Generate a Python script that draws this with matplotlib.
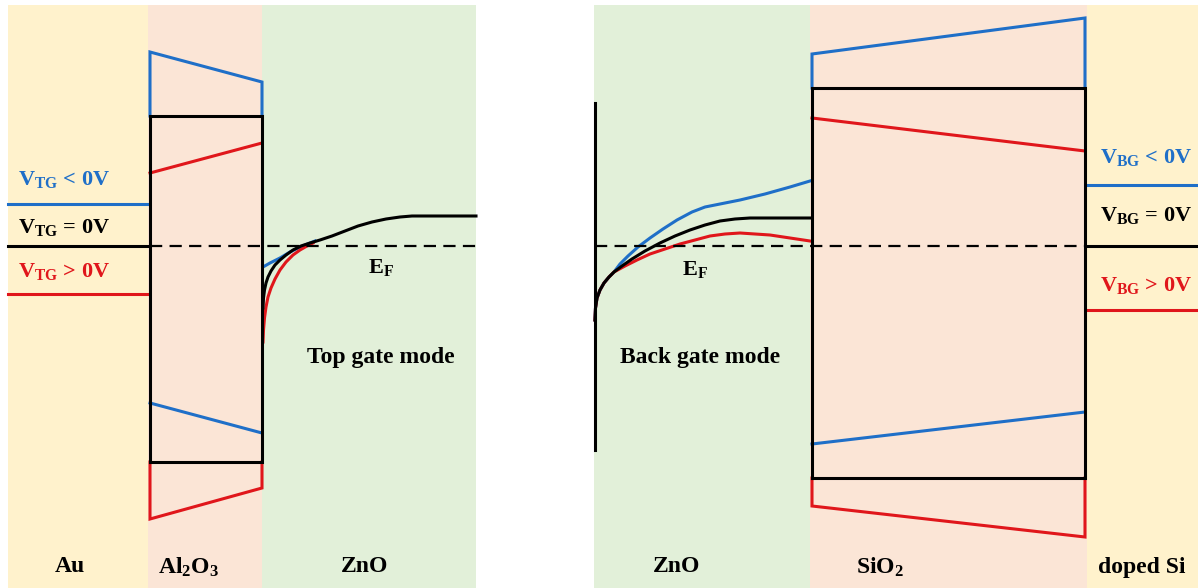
import matplotlib
matplotlib.use("Agg")
import matplotlib.pyplot as plt
from matplotlib.patches import Rectangle

plt.rcParams['font.family'] = 'Liberation Serif'
plt.rcParams['font.weight'] = 'bold'
plt.rcParams['mathtext.fontset'] = 'custom'
plt.rcParams['mathtext.rm'] = 'Liberation Serif:bold'
plt.rcParams['mathtext.it'] = 'Liberation Serif:bold'
plt.rcParams['mathtext.bf'] = 'Liberation Serif:bold'

# energy axis runs downward (pixel-like units), Fermi level shared by both diagrams
fermi_level = 246

# layer extents: name, x_left, x_right, fill colour
layers = [
    ("Au", 8, 148, "#fff2cc"),
    ("Al$_{\\mathrm{2}}$O$_{\\mathrm{3}}$", 148, 262, "#fbe5d6"),
    ("ZnO", 262, 476, "#e2f0d9"),
    ("ZnO", 594, 810, "#e2f0d9"),
    ("SiO$_{\\mathrm{2}}$", 810, 1087, "#fbe5d6"),
    ("doped Si", 1087, 1198, "#fff2cc"),
]
layer_label_x = [70, 188, 365, 677, 880, 1142]

blue = "#1f6fc8"
red = "#e0161b"
bias_colors = [blue, "black", red]

# ---- top gate: Au / Al2O3 / ZnO ----
au_levels = [204, 246, 294]            # V<0, V=0, V>0
al2o3_x = [150, 262]
al2o3_cb = {"blue": [52, 82], "black": [116, 116], "red": [173, 143]}
al2o3_vb = {"blue": [403, 433], "black": [462, 462], "red": [519, 488]}

tg_black_x = [263, 263.5, 264.5, 266, 268, 271, 275, 280, 286, 293, 301, 310,
              320, 332, 345, 358, 372, 386, 400, 412, 476]
tg_black_y = [308, 298, 290, 283, 277, 271, 265, 260, 255, 250, 246, 243,
              240, 236, 231, 226, 222, 219, 217, 216, 216]
tg_blue_x = [263, 270, 280, 290, 300, 310, 315]
tg_blue_y = [267, 263, 258, 252, 247, 243, 241]
tg_red_x = [263, 263.5, 264.5, 266, 268, 271, 275, 280, 286, 293, 300, 307, 313]
tg_red_y = [342, 330, 318, 307, 297, 288, 279, 270, 262, 255, 250, 246, 243]

# ---- back gate: ZnO / SiO2 / doped Si ----
zno_edge_x = 595
zno_edge_y = [103, 450]
bg_common_x = [595, 595.5, 597, 600, 604, 609]
bg_common_y = [320, 308, 298, 290, 283, 277]
bg_black_x = [614, 622, 632, 645, 660, 675, 690, 705, 720, 735, 750, 810]
bg_black_y = [272, 266, 259, 251, 243, 236, 230, 225, 221, 219, 218, 218]
bg_blue_x = [614, 620, 628, 638, 650, 663, 677, 692, 705, 720, 740, 765, 790, 810]
bg_blue_y = [272, 264, 256, 247, 238, 229, 220, 212, 207, 204, 200, 194, 187, 181]
bg_red_x = [614, 625, 637, 650, 665, 680, 695, 710, 725, 740, 755, 770, 790, 810]
bg_red_y = [272, 266, 260, 254, 249, 244, 240, 236, 234, 233, 234, 235, 238, 241]

sio2_x = [812, 1085]
sio2_cb = {"blue": [54, 18], "black": [88, 88], "red": [118, 151]}
sio2_vb = {"blue": [444, 412], "black": [478, 478], "red": [506, 537]}
si_levels = [185, 246, 310]            # V<0, V=0, V>0

tg_labels = ["V$_{\\mathrm{TG}}$ < 0V", "V$_{\\mathrm{TG}}$ = 0V", "V$_{\\mathrm{TG}}$ > 0V"]
tg_label_y = [180, 227, 272]
bg_labels = ["V$_{\\mathrm{BG}}$ < 0V", "V$_{\\mathrm{BG}}$ = 0V", "V$_{\\mathrm{BG}}$ > 0V"]
bg_label_y = [157, 216, 285]

fig = plt.figure(figsize=(11.98, 5.88), dpi=100)
ax = fig.add_axes([0, 0, 1, 1])
ax.set_xlim(0, 1198)
ax.set_ylim(588, 0)
ax.axis("off")

lw = 2.2
for (name, x0, x1, col), lx in zip(layers, layer_label_x):
    ax.add_patch(Rectangle((x0, 5), x1 - x0, 583, color=col, lw=0, zorder=0))
    ax.text(lx, 567, name, ha="center", va="center", fontsize=17)


def oxide(ax, xs, cb, vb):
    # outer band edges as open trapezoids, inner ones as plain lines,
    # zero-bias box drawn last on top
    top, bot = cb["black"], vb["black"]
    ax.plot([xs[0], xs[0], xs[1], xs[1]], [top[0], cb["blue"][0], cb["blue"][1], top[1]],
            color=blue, lw=lw, solid_joinstyle="miter", zorder=2)
    ax.plot([xs[0], xs[0], xs[1], xs[1]], [bot[0], vb["red"][0], vb["red"][1], bot[1]],
            color=red, lw=lw, solid_joinstyle="miter", zorder=2)
    ax.plot(xs, cb["red"], color=red, lw=lw, zorder=2)
    ax.plot(xs, vb["blue"], color=blue, lw=lw, zorder=2)
    ax.plot([xs[0], xs[0], xs[1], xs[1], xs[0]],
            [bot[0], top[0], top[1], bot[1], bot[0]],
            color="black", lw=lw, solid_joinstyle="miter", zorder=3)


# top-gate oxide
oxide(ax, al2o3_x, al2o3_cb, al2o3_vb)

# metal Fermi levels under each bias
for lev, c in zip(au_levels, bias_colors):
    ax.plot([8, 148], [lev, lev], color=c, lw=lw, zorder=2)
for lab, ly, c in zip(tg_labels, tg_label_y, bias_colors):
    ax.text(18, ly, lab, color=c, ha="left", va="center", fontsize=16)

# ZnO band bending under the top gate
ax.plot(tg_blue_x, tg_blue_y, color=blue, lw=lw, zorder=2)
ax.plot(tg_red_x, tg_red_y, color=red, lw=lw, zorder=2)
ax.plot(tg_black_x, tg_black_y, color="black", lw=lw, zorder=3)
ax.plot([150, 476], [fermi_level, fermi_level], color="black", lw=1.6,
        ls=(0, (5.5, 3.3)), zorder=3)
ax.text(381, 267, "E$_{\\mathrm{F}}$", ha="center", va="center", fontsize=16)
ax.text(381, 358, "Top gate mode", ha="center", va="center", fontsize=17)

# back-gate side
ax.plot([zno_edge_x, zno_edge_x], zno_edge_y, color="black", lw=lw, zorder=3)
ax.plot(bg_common_x + bg_blue_x, bg_common_y + bg_blue_y, color=blue, lw=lw, zorder=2)
ax.plot(bg_common_x + bg_red_x, bg_common_y + bg_red_y, color=red, lw=lw, zorder=2)
ax.plot(bg_common_x + bg_black_x, bg_common_y + bg_black_y, color="black", lw=lw, zorder=3)
ax.plot([595, 1085], [fermi_level, fermi_level], color="black", lw=1.6,
        ls=(0, (5.5, 3.3)), zorder=3)
ax.text(695, 269, "E$_{\\mathrm{F}}$", ha="center", va="center", fontsize=16)
ax.text(700, 358, "Back gate mode", ha="center", va="center", fontsize=17)

oxide(ax, sio2_x, sio2_cb, sio2_vb)

for lev, c in zip(si_levels, bias_colors):
    ax.plot([1087, 1198], [lev, lev], color=c, lw=lw, zorder=2)
for lab, ly, c in zip(bg_labels, bg_label_y, bias_colors):
    ax.text(1100, ly, lab, color=c, ha="left", va="center", fontsize=16)

fig.savefig("out.png", dpi=100)
